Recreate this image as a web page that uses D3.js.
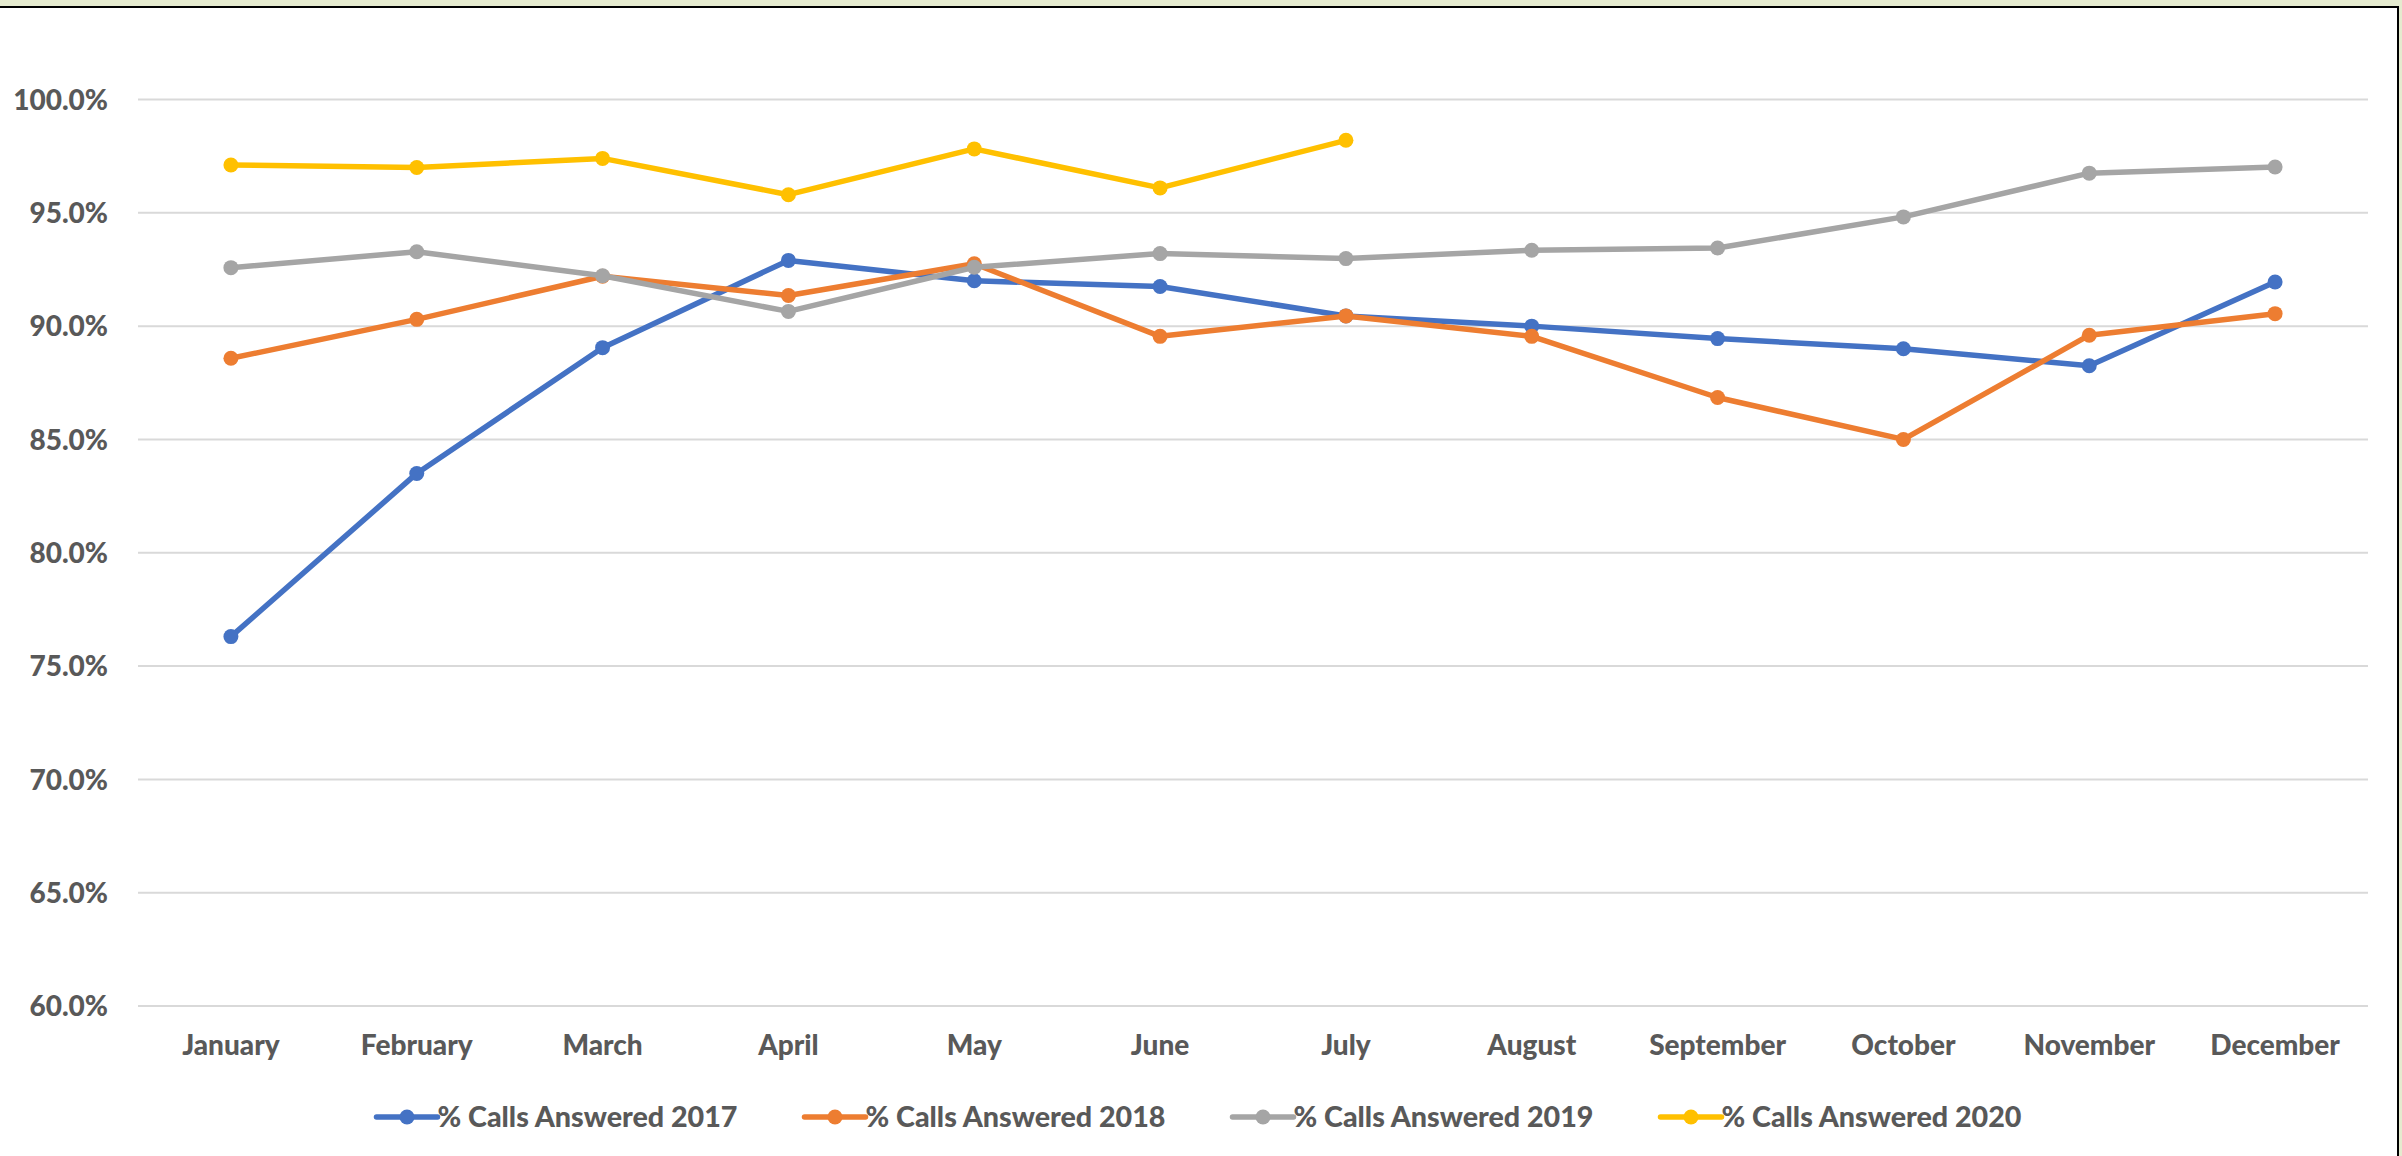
<!DOCTYPE html>
<html>
<head>
<meta charset="utf-8">
<script src="https://cdn.jsdelivr.net/npm/d3@7"></script>
<style>
  html, body { margin: 0; padding: 0; background: #e5ebcf; }
  svg { display: block; }
  text { font-family: Lato, "Open Sans", sans-serif; font-weight: 900; fill: #595959; }
</style>
</head>
<body>
<div id="chart"></div>
<script>
// data
var months = ["January", "February", "March", "April", "May", "June",
    "July", "August", "September", "October", "November", "December"];

var seriesNames = ["% Calls Answered 2017", "% Calls Answered 2018",
    "% Calls Answered 2019", "% Calls Answered 2020"];

var answered2017 = [76.3, 83.5, 89.05, 92.9, 92.0, 91.75, 90.45, 90.0, 89.45, 89.0, 88.25, 91.95];
var answered2018 = [88.58, 90.3, 92.2, 91.35, 92.75, 89.55, 90.45, 89.55, 86.85, 85.0, 89.6, 90.55];
var answered2019 = [92.58, 93.28, 92.22, 90.65, 92.6, 93.2, 92.98, 93.35, 93.45, 94.82, 96.75, 97.02];
var answered2020 = [97.11, 97.0, 97.4, 95.8, 97.82, 96.1, 98.2];

var yTicks = [60, 65, 70, 75, 80, 85, 90, 95, 100];

var colors = ["#4472c4", "#ed7d31", "#a5a5a5", "#ffc000"];

var svgWidth = 2402;
var svgHeight = 1156;

var margin = {
    top: 99.5,
    left: 138,
    right: 34,
    bottom: 150
};

var width = svgWidth - margin.left - margin.right;
var height = 1006 - margin.top;

var svg = d3.select("#chart")
    .append("svg")
    .attr("width", svgWidth)
    .attr("height", svgHeight);

// outer frame: white chart area with black top and right edges
svg.append("rect")
    .attr("x", -5)
    .attr("y", 7)
    .attr("width", 2403)
    .attr("height", svgHeight)
    .attr("fill", "#ffffff")
    .attr("stroke", "#000000")
    .attr("stroke-width", 2);

var chartGroup = svg.append("g")
    .attr("transform", `translate(${margin.left}, ${margin.top})`);

var xScale = d3.scaleBand()
    .domain(months)
    .range([0, width]);

var yScale = d3.scaleLinear()
    .domain([60, 100])
    .range([height, 0]);

// gridlines
chartGroup.selectAll(".grid")
    .data(yTicks)
    .enter()
    .append("line")
    .attr("class", "grid")
    .attr("x1", 0)
    .attr("x2", width)
    .attr("y1", d => yScale(d))
    .attr("y2", d => yScale(d))
    .attr("stroke", "#d9d9d9")
    .attr("stroke-width", 2);

var leftAxis = d3.axisLeft(yScale)
    .tickValues(yTicks)
    .tickSize(0)
    .tickPadding(30)
    .tickFormat(d => d.toFixed(1) + "%");

var yAxis = chartGroup.append("g").call(leftAxis);
yAxis.select(".domain").remove();
yAxis.selectAll("text")
    .style("font-size", "28px")
    .attr("dy", "0.35em");

var bottomAxis = d3.axisBottom(xScale)
    .tickSize(0)
    .tickPadding(29);

var xAxis = chartGroup.append("g")
    .attr("transform", `translate(0, ${height})`)
    .call(bottomAxis);
xAxis.select(".domain").remove();
xAxis.selectAll("text")
    .style("font-size", "28px")
    .attr("dy", "0.71em");

var allSeries = [answered2017, answered2018, answered2019, answered2020];

var line = d3.line()
    .x((d, i) => xScale(months[i]) + xScale.bandwidth() / 2)
    .y(d => yScale(d));

allSeries.forEach(function(values, s) {
    chartGroup.append("path")
        .datum(values)
        .attr("fill", "none")
        .attr("stroke", colors[s])
        .attr("stroke-width", 5.5)
        .attr("stroke-linejoin", "round")
        .attr("d", line);

    chartGroup.selectAll(".dot" + s)
        .data(values)
        .enter()
        .append("circle")
        .attr("class", "dot" + s)
        .attr("cx", (d, i) => xScale(months[i]) + xScale.bandwidth() / 2)
        .attr("cy", d => yScale(d))
        .attr("r", 7.5)
        .attr("fill", colors[s]);
});

// legend
var legendStep = 428;
var legendStart = 1199 - (legendStep * 3 + 361) / 2;
var legend = svg.append("g")
    .attr("transform", `translate(${legendStart}, 1117)`);

var items = legend.selectAll(".item")
    .data(seriesNames)
    .enter()
    .append("g")
    .attr("class", "item")
    .attr("transform", (d, i) => `translate(${i * legendStep}, 0)`);

items.append("line")
    .attr("x1", 0)
    .attr("x2", 61)
    .attr("stroke", (d, i) => colors[i])
    .attr("stroke-width", 5.5)
    .attr("stroke-linecap", "round");

items.append("circle")
    .attr("cx", 30.5)
    .attr("r", 7.5)
    .attr("fill", (d, i) => colors[i]);

items.append("text")
    .attr("x", 61)
    .attr("dy", "0.35em")
    .style("font-size", "29px")
    .attr("textLength", 300)
    .attr("lengthAdjust", "spacingAndGlyphs")
    .text(d => d);
</script>
</body>
</html>
